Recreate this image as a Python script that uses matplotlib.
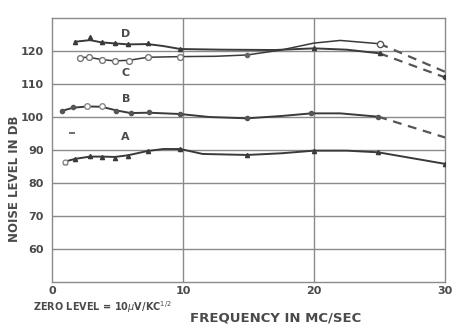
import matplotlib
matplotlib.use("Agg")
import matplotlib.pyplot as plt

# marker points (freq in Mc/s, noise level in dB)
d_x = [1.75, 2.9, 3.8, 4.8, 5.8, 7.3, 9.8, 20.0, 25.0]
d_y = [122.8, 124.2, 122.6, 122.3, 122.0, 122.3, 120.5, 120.8, 119.3]
c_x = [2.1, 2.8, 3.8, 4.8, 5.9, 7.3, 9.8, 14.9, 25.0]
c_y = [118.0, 118.3, 117.3, 117.0, 117.0, 118.1, 118.3, 118.8, 122.2]
b_x = [0.8, 1.6, 2.7, 3.8, 4.9, 6.0, 7.4, 9.8, 14.9, 19.8, 24.9]
b_y = [101.9, 103.1, 103.3, 103.3, 101.8, 101.1, 101.4, 100.9, 99.6, 101.1, 100.1]
a_x = [1.0, 1.75, 2.9, 3.8, 4.8, 5.8, 7.3, 9.8, 14.9, 20.0, 24.9, 30.0]
a_y = [86.5, 87.3, 88.3, 88.0, 87.7, 88.3, 89.7, 90.3, 88.5, 89.8, 89.3, 85.8]

# traced solid curves (includes a few extra points where the pen bends)
d_curve_x = [1.75, 2.9, 3.8, 4.8, 5.8, 7.3, 8.5, 9.8, 13.0, 17.0, 20.0, 22.5, 25.0]
d_curve_y = [122.8, 123.3, 122.6, 122.3, 122.0, 122.1, 121.5, 120.6, 120.4, 120.3, 120.8, 120.4, 119.3]
c_curve_x = [2.1, 2.8, 3.8, 4.8, 5.9, 7.3, 9.8, 12.5, 14.9, 17.5, 20.0, 22.0, 25.0]
c_curve_y = [118.0, 118.1, 117.4, 117.0, 117.2, 118.1, 118.3, 118.4, 118.8, 120.3, 122.4, 123.2, 122.2]
b_curve_x = [0.8, 1.6, 2.7, 3.8, 4.9, 6.0, 7.4, 9.8, 12.0, 14.9, 17.5, 19.8, 22.0, 24.9]
b_curve_y = [101.9, 102.8, 103.2, 103.1, 102.0, 101.2, 101.3, 100.9, 100.0, 99.6, 100.3, 101.1, 101.1, 100.1]
a_curve_x = [1.0, 1.75, 2.9, 3.8, 4.8, 5.8, 7.3, 8.5, 9.8, 11.5, 14.9, 17.5, 20.0, 22.5, 24.9, 30.0]
a_curve_y = [86.5, 87.3, 88.0, 88.0, 87.9, 88.4, 89.7, 90.3, 90.3, 88.8, 88.5, 89.0, 89.8, 89.8, 89.3, 85.8]

# dashed extrapolations
d_dash_x = [25.0, 30.0]
d_dash_y = [119.3, 112.0]
c_dash_x = [25.0, 30.0]
c_dash_y = [122.2, 113.7]
b_dash_x = [24.9, 30.0]
b_dash_y = [100.1, 93.8]

curve_names = ["D", "C", "B", "A"]
name_x = [5.6, 5.65, 5.65, 5.6]
name_y = [125.3, 113.3, 105.5, 94.0]

x_ticks = [0, 10, 20, 30]
y_ticks = [60, 70, 80, 90, 100, 110, 120]

ink = "#3a3a3a"
grid = "#8a8a8a"
txt = "#4a4a4a"

fig = plt.figure(figsize=(4.62, 3.25), dpi=100)
ax = fig.add_axes([52 / 462, 1 - 282 / 325, 393 / 462, 264 / 325])

for yv in y_ticks:
    ax.axhline(yv, color=grid, lw=1.0, zorder=1)
for xv in [10, 20]:
    ax.axvline(xv, color=grid, lw=1.0, zorder=1)

ax.plot(d_curve_x, d_curve_y, color=ink, lw=1.4, zorder=3)
ax.plot(c_curve_x, c_curve_y, color=ink, lw=1.1, zorder=3)
ax.plot(b_curve_x, b_curve_y, color=ink, lw=1.4, zorder=3)
ax.plot(a_curve_x, a_curve_y, color=ink, lw=1.4, zorder=3)

ax.plot(d_dash_x, d_dash_y, color="#555555", lw=1.6, ls=(0, (4, 3)), zorder=3)
ax.plot(c_dash_x, c_dash_y, color="#555555", lw=1.6, ls=(0, (4, 3)), zorder=3)
ax.plot(b_dash_x, b_dash_y, color="#555555", lw=1.6, ls=(0, (4, 3)), zorder=3)

ax.plot(d_x, d_y, ls="none", marker="^", ms=3, color=ink, zorder=4)
ax.plot(d_dash_x[-1:], d_dash_y[-1:], ls="none", marker="o", ms=3, color=ink, zorder=4)
ax.plot(c_x[:-2], c_y[:-2], ls="none", marker="o", ms=4.2, mfc="white", mec="#777777", mew=1.0, zorder=4)
ax.plot(c_x[-2:-1], c_y[-2:-1], ls="none", marker="o", ms=3, color="#666666", zorder=4)
ax.plot(c_x[-1:], c_y[-1:], ls="none", marker="o", ms=4.5, mfc="white", mec="#555555", mew=1.0, zorder=4)
ax.plot(b_x, b_y, ls="none", marker="o", ms=3, color="#555555", zorder=4)
ax.plot(b_x[2:4], b_y[2:4], ls="none", marker="o", ms=4, mfc="white", mec="#888888", mew=1.0, zorder=5)
ax.plot(a_x, a_y, ls="none", marker="^", ms=3, color=ink, zorder=4)
ax.plot(a_x[:1], a_y[:1], ls="none", marker="o", ms=3.5, mfc="white", mec="#888888", zorder=5)
ax.plot([1.5], [95.3], ls="none", marker="_", ms=4, mew=1.2, color="#555555", zorder=4)

for name, nx, ny in zip(curve_names, name_x, name_y):
    ax.text(nx, ny, name, ha="center", va="center", fontsize=8,
            fontweight="bold", color=txt)

ax.set_xlim(0, 30)
ax.set_ylim(50, 130)
ax.set_xticks(x_ticks)
ax.set_yticks(y_ticks)
ax.set_xticklabels([str(v) for v in x_ticks], fontsize=8, fontweight="bold", color=txt)
ax.set_yticklabels([str(v) for v in y_ticks], fontsize=8, fontweight="bold", color=txt)
ax.tick_params(axis="y", length=0, pad=6)
ax.tick_params(axis="x", length=0, pad=3)
for sp in ax.spines.values():
    sp.set_color(grid)
    sp.set_linewidth(1.0)

fig.text(15 / 462, 1 - 179 / 325, "NOISE LEVEL IN DB", rotation=90, ha="center",
         va="center", fontsize=8.5, fontweight="bold", color=txt)
fig.text(276 / 462, 1 - 318 / 325, "FREQUENCY IN MC/SEC", ha="center", va="center",
         fontsize=9.5, fontweight="bold", color=txt)
fig.text(33 / 462, 1 - 307 / 325, r"ZERO LEVEL = 10$\mu$V/KC$^{1/2}$", ha="left",
         va="center", fontsize=7, fontweight="bold", color=txt)

fig.savefig("out.png", dpi=100, facecolor="white")
